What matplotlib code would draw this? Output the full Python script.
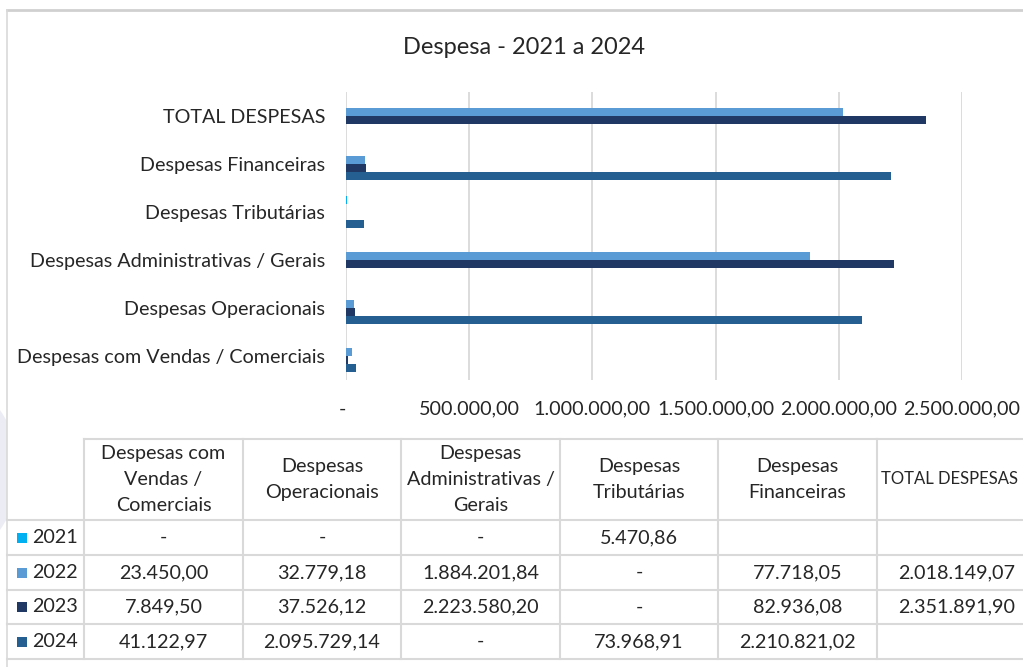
import numpy as np
import matplotlib
matplotlib.use("Agg")
import matplotlib.pyplot as plt
from matplotlib.patches import Ellipse, Rectangle

plt.rcParams['font.family'] = ['Lato', 'DejaVu Sans']

# ---------------- data ----------------
categories = ["Despesas com Vendas / Comerciais", "Despesas Operacionais",
              "Despesas Administrativas / Gerais", "Despesas Tributárias",
              "Despesas Financeiras", "TOTAL DESPESAS"]
header_labels = ["Despesas com\nVendas /\nComerciais", "Despesas\nOperacionais",
                 "Despesas\nAdministrativas /\nGerais", "Despesas\nTributárias",
                 "Despesas\nFinanceiras", "TOTAL DESPESAS"]
years = ["2021", "2022", "2023", "2024"]
# 0 -> shown as "-", None -> empty cell
v2021 = [0, 0, 0, 5470.86, None, None]
v2022 = [23450.00, 32779.18, 1884201.84, 0, 77718.05, 2018149.07]
v2023 = [7849.50, 37526.12, 2223580.20, 0, 82936.08, 2351891.90]
v2024 = [41122.97, 2095729.14, 0, 73968.91, 2210821.02, None]
series = [v2021, v2022, v2023, v2024]
colors = ["#00B0F0", "#5B9BD5", "#203864", "#255E91"]
x_ticks = [0, 500000, 1000000, 1500000, 2000000, 2500000]

GRID = "#D9D9D9"
TXT = "#262626"
FS = 14.2


def br(v):
    if v is None:
        return ""
    if v == 0:
        return "-"
    s = f"{v:,.2f}"
    return s.replace(",", "X").replace(".", ",").replace("X", ".")


W, H = 1023, 667
fig = plt.figure(figsize=(W / 100, H / 100), dpi=100)

# background overlay axes in pixel coords
bg = fig.add_axes([0, 0, 1, 1])
bg.set_xlim(0, W)
bg.set_ylim(H, 0)
bg.axis('off')
bg.add_patch(Ellipse((-330, 470), 700, 360, facecolor="#ECECF4", edgecolor="none", zorder=0))
bg.add_patch(Rectangle((7, 10), W, H, facecolor="white", edgecolor="none", zorder=0.5))
bg.plot([7, W], [10, 10], color="#D0D0D0", lw=2, zorder=1)
bg.plot([7, 7], [10, H], color=GRID, lw=1.2, zorder=1)

# ---------------- bar chart ----------------
x0, x1, y0, y1 = 346, 962, 92, 380
ax = fig.add_axes([x0 / W, 1 - y1 / H, (x1 - x0) / W, (y1 - y0) / H])
ax.patch.set_alpha(0)
n = len(categories)
pos = np.arange(n)
bh = 1 / 6
for j, (vals, c) in enumerate(zip(series, colors)):
    vv = [0 if v is None else v for v in vals]
    ax.barh(pos + (1.5 - j) * bh, vv, height=bh, color=c, linewidth=0, zorder=3)
ax.set_xlim(0, 2500000)
ax.set_ylim(-0.5, n - 0.5)
ax.set_xticks(x_ticks)
ax.set_xticklabels([br(t) for t in x_ticks], fontsize=FS, color=TXT)
ax.get_xticklabels()[0].set_ha('right')
ax.set_yticks(pos)
ax.set_yticklabels(categories, fontsize=FS, color=TXT)
ax.tick_params(axis='x', length=0, pad=15)
ax.tick_params(axis='y', length=0, pad=15)
ax.grid(axis='x', color=GRID, lw=1.3, zorder=0)
for s in ax.spines.values():
    s.set_visible(False)
fig.text(524 / W, 1 - 47 / H, "Despesa - 2021 a 2024", ha='center', va='center',
         fontsize=17, color=TXT)

# ---------------- data table ----------------
col_edges = [84, 243, 401, 560, 718, 877, 1036]
row_edges = [439, 520, 555, 590, 624, 659]
bg.plot([84, W], [row_edges[0]] * 2, color=GRID, lw=1.5, zorder=2)
for y in row_edges[1:]:
    bg.plot([7, W], [y, y], color=GRID, lw=1.5, zorder=2)
for x in col_edges[:-1]:
    bg.plot([x, x], [row_edges[0], row_edges[-1]], color=GRID, lw=1.5, zorder=2)

hy = (row_edges[0] + row_edges[1]) / 2
for i, lab in enumerate(header_labels[:-1]):
    cx = (col_edges[i] + col_edges[i + 1]) / 2
    bg.text(cx, hy, lab, ha='center', va='center',
            fontsize=FS, color=TXT, linespacing=1.65, zorder=3)
# last header sits at the cropped right edge; keep it whole
bg.text(881, hy, header_labels[-1], ha='left', va='center',
        fontsize=12, color=TXT, zorder=3)

for r, (yr, vals, c) in enumerate(zip(years, series, colors)):
    cy = (row_edges[r + 1] + row_edges[r + 2]) / 2
    bg.add_patch(Rectangle((17, cy - 5), 10, 10, facecolor=c, edgecolor="none", zorder=3))
    bg.text(32, cy, yr, ha='left', va='center', fontsize=FS, color=TXT, zorder=3)
    for i, v in enumerate(vals):
        cx = (col_edges[i] + col_edges[i + 1]) / 2
        bg.text(cx, cy, br(v), ha='center', va='center', fontsize=FS, color=TXT, zorder=3)

fig.savefig("out.png", dpi=100)
